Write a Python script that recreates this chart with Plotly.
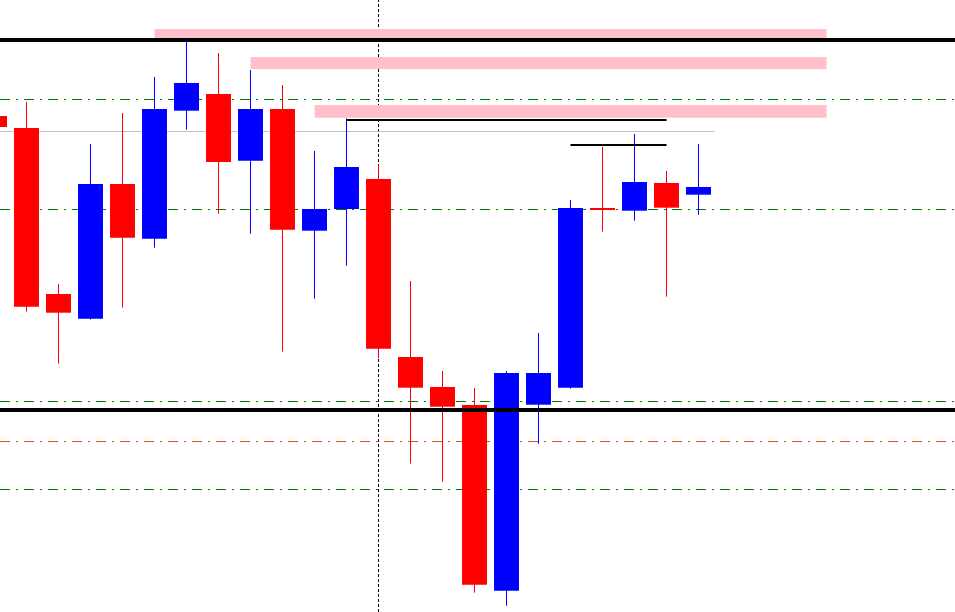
import plotly.graph_objects as go

# ---- candle data (bar index, open, high, low, close) ----
idx    = [-1, 0, 1, 2, 3, 4, 5, 6, 7, 8, 9, 10, 11, 12, 13, 14, 15, 16, 17, 18, 19, 20, 21]
opens  = [150.840, 150.720, 149.060, 148.813, 150.160, 149.613, 150.893, 151.060, 150.393, 150.910,
          149.693, 149.910, 150.210, 148.430, 148.130, 147.950, 146.093, 147.953, 148.123, 149.912,
          149.893, 150.170, 150.053]
highs  = [150.870, 150.983, 149.160, 150.560, 150.870, 151.230, 151.583, 151.470, 151.300, 151.150,
          150.490, 150.817, 150.353, 149.190, 148.290, 148.120, 148.290, 148.670, 150.000, 150.530,
          150.660, 150.290, 150.560]
lows   = [150.690, 148.883, 148.363, 148.805, 148.923, 149.523, 150.703, 149.863, 149.663, 148.483,
          149.013, 149.343, 148.420, 147.363, 147.183, 146.073, 145.943, 147.563, 148.113, 149.683,
          149.793, 149.033, 149.853]
closes = [150.730, 148.933, 148.873, 150.160, 149.623, 150.910, 151.170, 150.380, 150.910, 149.703,
          149.910, 150.330, 148.513, 148.123, 147.933, 146.153, 148.270, 148.270, 149.920, 149.902,
          150.180, 149.923, 150.130]

# ---- horizontal levels ----
thick_levels = [151.600, 147.900]                     # black thick lines
pink_zones = [(4, 25, 151.605, 151.710),              # (x start, x end, low, high)
              (7, 25, 151.310, 151.430),
              (9, 25, 150.823, 150.950)]
green_levels = [151.005, 149.905, 147.985, 147.105]   # green dash-dot
orange_levels = [147.585]                             # orange dash-dot
gray_level = (-2, 21.5, 150.685)                      # (x start, x end, price)
black_segments = [(10, 20, 150.800), (17, 20, 150.550)]
vline_index = 11

UP = "#0000FF"
DOWN = "#FF0000"

fig = go.Figure()

up = [i for i in range(len(idx)) if closes[i] > opens[i]]
dn = [i for i in range(len(idx)) if closes[i] <= opens[i]]

for group, col in ((up, UP), (dn, DOWN)):
    wx, wy = [], []
    for i in group:
        wx += [idx[i], idx[i], None]
        wy += [lows[i], highs[i], None]
    fig.add_trace(go.Scatter(x=wx, y=wy, mode="lines",
                             line=dict(color=col, width=1), hoverinfo="skip"))
    fig.add_trace(go.Bar(
        x=[idx[i] for i in group],
        base=[min(opens[i], closes[i]) for i in group],
        y=[max(abs(closes[i] - opens[i]), 0.01) for i in group],
        width=0.78,
        marker=dict(color=col, line=dict(width=0)),
        hoverinfo="skip"))

shapes = []
for x0, x1, y0, y1 in pink_zones:
    shapes.append(dict(type="rect", xref="x", yref="y", x0=x0, x1=x1, y0=y0, y1=y1,
                       fillcolor="#FFC0CB", line=dict(width=0), layer="below"))
for lv in green_levels:
    shapes.append(dict(type="line", xref="paper", yref="y", x0=0, x1=1, y0=lv, y1=lv,
                       line=dict(color="#007000", width=1, dash="10px,6px,2px,6px"),
                       layer="below"))
for lv in orange_levels:
    shapes.append(dict(type="line", xref="paper", yref="y", x0=0, x1=1, y0=lv, y1=lv,
                       line=dict(color="#F04A14", width=1, dash="10px,6px,2px,6px"),
                       layer="below"))
gx0, gx1, gy = gray_level
shapes.append(dict(type="line", xref="x", yref="y", x0=gx0, x1=gx1, y0=gy, y1=gy,
                   line=dict(color="#C0C0C0", width=1), layer="below"))
shapes.append(dict(type="line", xref="x", yref="paper", x0=vline_index, x1=vline_index,
                   y0=0, y1=1, line=dict(color="black", width=1, dash="3px,2px"),
                   layer="below"))
for x0, x1, lv in black_segments:
    shapes.append(dict(type="line", xref="x", yref="y", x0=x0, x1=x1, y0=lv, y1=lv,
                       line=dict(color="black", width=2), layer="above"))
for lv in thick_levels:
    shapes.append(dict(type="line", xref="paper", yref="y", x0=0, x1=1, y0=lv, y1=lv,
                       line=dict(color="black", width=4), layer="above"))

fig.update_layout(
    width=955, height=612,
    margin=dict(l=0, r=0, t=0, b=0, pad=0),
    paper_bgcolor="white", plot_bgcolor="white",
    showlegend=False, barmode="overlay",
    xaxis=dict(visible=False, range=[-26.5 / 32, (955 - 26.5) / 32], fixedrange=True),
    yaxis=dict(visible=False, range=[145.88, 152.00], fixedrange=True),
    shapes=shapes,
)

fig.write_html("out.html", config={"displayModeBar": False},
               post_script="document.body.style.margin='0';document.body.style.overflow='hidden';")
